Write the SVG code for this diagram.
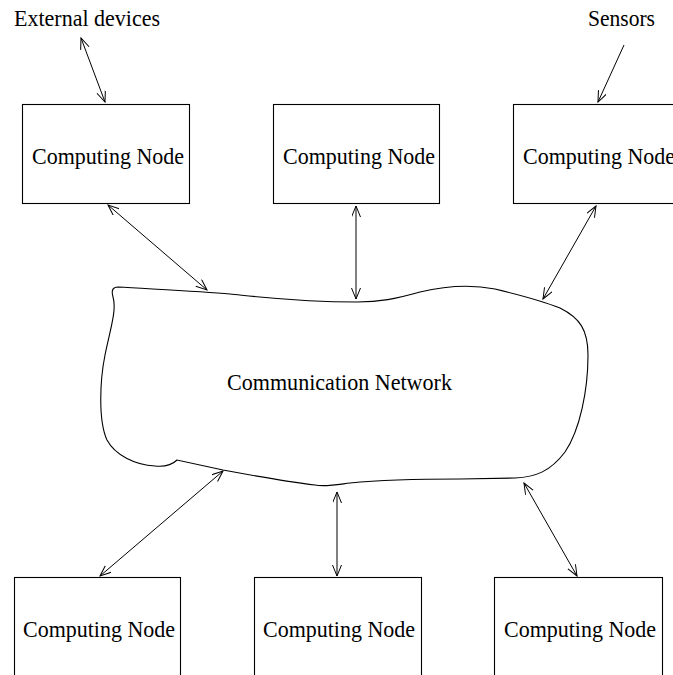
<svg xmlns="http://www.w3.org/2000/svg" width="673" height="675" viewBox="0 0 673 675">
<style>
.box{fill:none;stroke:#000;stroke-width:1.1}
.lbl{font-family:"Liberation Serif","Times New Roman",serif;font-size:24px;fill:#000}
.con{fill:none;stroke:#000;stroke-width:1}
.cloud{fill:none;stroke:#000;stroke-width:1.1}
</style>
<defs>
<marker id="ah" markerUnits="userSpaceOnUse" markerWidth="14" markerHeight="12" refX="11" refY="4.5" orient="auto-start-reverse" viewBox="0 0 14 12">
<path d="M0,0 L11,4.5 L0,9" fill="none" stroke="#000" stroke-width="1"/>
</marker>
</defs>
<rect width="673" height="675" fill="#fff"/>
<g id="labels">
<text class="lbl" x="14" y="26" textLength="146" lengthAdjust="spacingAndGlyphs">External devices</text>
<text class="lbl" x="588" y="26" textLength="67" lengthAdjust="spacingAndGlyphs">Sensors</text>
</g>
<g id="node-top-1">
<rect class="box" x="22.5" y="104.5" width="167" height="99"/>
<text class="lbl" x="32" y="164" textLength="152" lengthAdjust="spacingAndGlyphs">Computing Node</text>
</g>
<g id="node-top-2">
<rect class="box" x="273.5" y="104.5" width="166" height="99"/>
<text class="lbl" x="283" y="164" textLength="152" lengthAdjust="spacingAndGlyphs">Computing Node</text>
</g>
<g id="node-top-3">
<rect class="box" x="513.5" y="104.5" width="200" height="99"/>
<text class="lbl" x="523" y="164" textLength="152" lengthAdjust="spacingAndGlyphs">Computing Node</text>
</g>
<g id="network">
<path class="cloud" d="M118,287 C150,289 200,291 230,294 C260,297 300,302 357,302 C380,302 395,299 420,292 C445,286 470,284 495,289 C520,295 545,302 560,308 C580,318 588,330 588,355 C588,390 580,430 565,452 C550,472 535,477 515,478 L460,479 C420,479 380,480 350,483 C335,485 325,487 315,485 C290,482 250,475 223,470 L177,460 C172,465 165,467 155,466 C135,465 115,455 107,440 C98,420 100,380 105,355 C110,330 117,310 113,297 C111,290 113,287 118,287 Z"/>
<text class="lbl" x="227" y="390" textLength="225" lengthAdjust="spacingAndGlyphs">Communication Network</text>
</g>
<g id="node-bottom-1">
<rect class="box" x="14.5" y="577.5" width="166" height="130"/>
<text class="lbl" x="23" y="637" textLength="152" lengthAdjust="spacingAndGlyphs">Computing Node</text>
</g>
<g id="node-bottom-2">
<rect class="box" x="254.5" y="577.5" width="167" height="130"/>
<text class="lbl" x="263" y="637" textLength="152" lengthAdjust="spacingAndGlyphs">Computing Node</text>
</g>
<g id="node-bottom-3">
<rect class="box" x="494.5" y="577.5" width="168" height="130"/>
<text class="lbl" x="504" y="637" textLength="152" lengthAdjust="spacingAndGlyphs">Computing Node</text>
</g>
<g id="connectors">
<line class="con" x1="81" y1="38" x2="105" y2="102" marker-start="url(#ah)" marker-end="url(#ah)"/>
<line class="con" x1="624" y1="45" x2="598" y2="102" marker-end="url(#ah)"/>
<line class="con" x1="108" y1="205" x2="207" y2="290" marker-start="url(#ah)" marker-end="url(#ah)"/>
<line class="con" x1="356" y1="206" x2="356" y2="299" marker-start="url(#ah)" marker-end="url(#ah)"/>
<line class="con" x1="596" y1="206" x2="543" y2="299" marker-start="url(#ah)" marker-end="url(#ah)"/>
<line class="con" x1="223" y1="471" x2="100" y2="576" marker-start="url(#ah)" marker-end="url(#ah)"/>
<line class="con" x1="337" y1="492" x2="337" y2="576" marker-start="url(#ah)" marker-end="url(#ah)"/>
<line class="con" x1="524" y1="483" x2="577" y2="576" marker-start="url(#ah)" marker-end="url(#ah)"/>
</g>
</svg>
